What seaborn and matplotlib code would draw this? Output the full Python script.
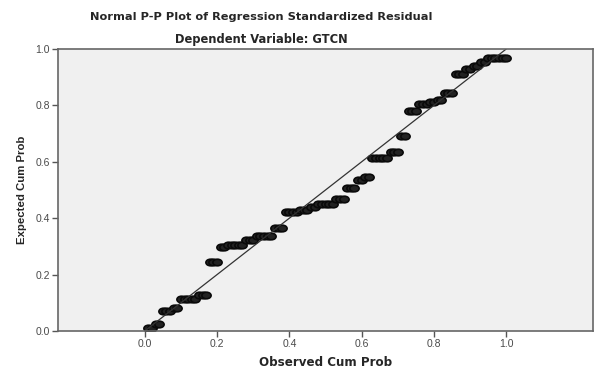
import numpy as np
import pandas as pd
import seaborn as sns
import matplotlib
matplotlib.use("Agg")
import matplotlib.pyplot as plt
from matplotlib.path import Path
from matplotlib.transforms import Affine2D

# expected cum prob levels (tied residuals) and how many observations share each level
expected_levels = [0.011, 0.024, 0.071, 0.082, 0.113, 0.128, 0.244, 0.297, 0.305, 0.322,
                   0.337, 0.364, 0.422, 0.428, 0.439, 0.449, 0.468, 0.506, 0.534, 0.547,
                   0.612, 0.634, 0.691, 0.781, 0.805, 0.813, 0.819, 0.845, 0.910, 0.928,
                   0.940, 0.953, 0.968]
level_counts = [2, 2, 3, 2, 5, 3, 3, 2, 5, 3,
                5, 3, 4, 3, 2, 5, 3, 3, 2, 2,
                5, 3, 2, 3, 3, 2, 2, 3, 3, 2,
                2, 2, 6]

observed = [0.01, 0.02, 0.03, 0.04, 0.05, 0.06, 0.07, 0.08, 0.09, 0.10,
            0.11, 0.12, 0.13, 0.14, 0.15, 0.16, 0.17, 0.18, 0.19, 0.20,
            0.21, 0.22, 0.23, 0.24, 0.25, 0.26, 0.27, 0.28, 0.29, 0.30,
            0.31, 0.32, 0.33, 0.34, 0.35, 0.36, 0.37, 0.38, 0.39, 0.40,
            0.41, 0.42, 0.43, 0.44, 0.45, 0.46, 0.47, 0.48, 0.49, 0.50,
            0.51, 0.52, 0.53, 0.54, 0.55, 0.56, 0.57, 0.58, 0.59, 0.60,
            0.61, 0.62, 0.63, 0.64, 0.65, 0.66, 0.67, 0.68, 0.69, 0.70,
            0.71, 0.72, 0.73, 0.74, 0.75, 0.76, 0.77, 0.78, 0.79, 0.80,
            0.81, 0.82, 0.83, 0.84, 0.85, 0.86, 0.87, 0.88, 0.89, 0.90,
            0.91, 0.92, 0.93, 0.94, 0.95, 0.96, 0.97, 0.98, 0.99, 1.00]

ref_line = [0.0, 1.0]
ticks = [0.0, 0.2, 0.4, 0.6, 0.8, 1.0]
tick_labels = ["0.0", "0.2", "0.4", "0.6", "0.8", "1.0"]

df = pd.DataFrame({
    "observed": observed,
    "expected": np.repeat(expected_levels, level_counts),
})

sns.set_theme(style="white")
plt.rcParams["font.family"] = ["Liberation Sans", "DejaVu Sans"]

# the source image is a bit stretched sideways, so the circles look like flat ovals
oval = Affine2D().scale(1.4, 1.0).transform_path(Path.unit_circle())

fig = plt.figure(figsize=(6.01, 3.76), dpi=100)
ax = fig.add_axes([0.0965, 0.1197, 0.8902, 0.75])
ax.set_facecolor("#f0f0f0")

sns.lineplot(x=ref_line, y=ref_line, ax=ax, color="#333333", linewidth=0.9)
sns.scatterplot(data=df, x="observed", y="expected", ax=ax, marker=oval,
                s=44, facecolor="#222222", edgecolor="#0a0a0a", linewidth=1.2)

ax.set_xlim(-0.24, 1.24)
ax.set_ylim(0, 1)
ax.set_xticks(ticks)
ax.set_xticklabels(tick_labels)
ax.set_yticks(ticks)
ax.set_yticklabels(tick_labels)
ax.tick_params(axis="both", length=4, width=1, color="#555555",
               labelsize=7.5, labelcolor="#4a4a4a", pad=2, direction="out",
               bottom=True, left=True)
for sp in ax.spines.values():
    sp.set_color("#666666")
    sp.set_linewidth(1.2)

wide = ["DejaVu Sans"]
ax.set_xlabel("Observed Cum Prob", fontsize=8.6, fontweight="bold", labelpad=5,
              family=wide)
ax.set_ylabel("Expected Cum Prob", fontsize=8.2, fontweight="bold", labelpad=6)

fig.text(0.434, 1 - 17 / 376, "Normal P-P Plot of Regression Standardized Residual",
         ha="center", va="center", fontsize=8.2, fontweight="bold", family=wide)
fig.text(0.434, 1 - 39 / 376, "Dependent Variable: GTCN",
         ha="center", va="center", fontsize=8.3, fontweight="bold", family=wide)

fig.savefig("out.png", dpi=100)
